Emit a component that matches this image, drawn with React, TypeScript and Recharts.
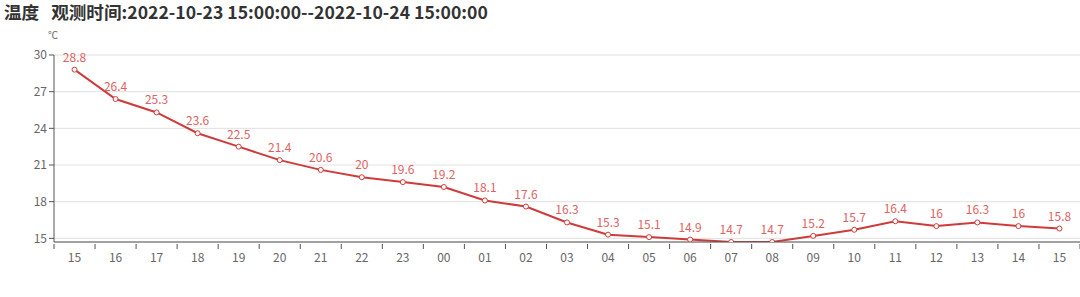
import React from 'react';
import { LineChart, Line, XAxis, YAxis, CartesianGrid, LabelList } from 'recharts';

// hours of the observation window
const hours = ['15', '16', '17', '18', '19', '20', '21', '22', '23', '00', '01', '02', '03', '04', '05', '06', '07', '08', '09', '10', '11', '12', '13', '14', '15'];
// temperature, °C
const temps = [28.8, 26.4, 25.3, 23.6, 22.5, 21.4, 20.6, 20, 19.6, 19.2, 18.1, 17.6, 16.3, 15.3, 15.1, 14.9, 14.7, 14.7, 15.2, 15.7, 16.4, 16, 16.3, 16, 15.8];
const yTicks = [15, 18, 21, 24, 27, 30];

const data = hours.map((h, i) => ({ hour: h, temp: temps[i] }));

const FONT = '"Noto Sans CJK SC", "Noto Sans", sans-serif';
const AXIS = '#555';
const CHART_W = 1080;
const Y_W = 54;
const HALF_BAND = (CHART_W - Y_W) / hours.length / 2;

// echarts-style category tick: mark on band boundary, label in band centre
const HourTick = (props: any) => {
  const { x, y, payload, width, visibleTicksCount, index } = props;
  const band = width / visibleTicksCount;
  const left = x - band / 2;
  const isLast = index === visibleTicksCount - 1;
  return (
    <g>
      <line x1={left} x2={left} y1={y - 6} y2={y - 1} stroke={AXIS} />
      {isLast && <line x1={left + band} x2={left + band} y1={y - 6} y2={y - 1} stroke={AXIS} />}
      <text x={x} y={y + 12} textAnchor="middle" fill="#666" fontSize={12}>
        {payload.value}
      </text>
    </g>
  );
};

const App = () => {
  return (
    <div style={{ position: 'absolute', left: 0, top: 0, width: 1080, height: 297, background: '#fff', fontFamily: FONT }}>
      <div style={{ position: 'absolute', left: 4, top: 0, fontSize: 17.6, fontWeight: 700, color: '#333', whiteSpace: 'pre', lineHeight: '24px' }}>
        {'温度   观测时间:2022-10-23 15:00:00--2022-10-24 15:00:00'}
      </div>
      <div style={{ position: 'absolute', left: 48, top: 27, fontSize: 10, color: '#666' }}>℃</div>
      <LineChart
        width={CHART_W}
        height={297}
        data={data}
        margin={{ top: 55, right: 0, bottom: 25, left: 0 }}
        style={{ fontFamily: FONT }}
      >
        <CartesianGrid horizontal vertical={false} stroke="#e0e0e0" />
        <XAxis
          dataKey="hour"
          interval={0}
          padding={{ left: HALF_BAND, right: HALF_BAND }}
          tickLine={false}
          axisLine={{ stroke: AXIS }}
          tick={<HourTick />}
          height={30}
        />
        <YAxis
          domain={[14.7, 30]}
          ticks={yTicks}
          allowDataOverflow
          width={Y_W}
          axisLine={{ stroke: AXIS }}
          tickLine={{ stroke: AXIS }}
          tickSize={5}
          tick={{ fill: '#666', fontSize: 12 }}
        />
        <Line
          type="linear"
          dataKey="temp"
          stroke="#cf3b3b"
          strokeWidth={2}
          dot={{ r: 2.5, fill: '#fff', stroke: '#cf3b3b', strokeWidth: 1 }}
          isAnimationActive={false}
        >
          <LabelList dataKey="temp" position="top" offset={8} fill="#e06262" fontSize={12} />
        </Line>
      </LineChart>
    </div>
  );
};

export default App;
